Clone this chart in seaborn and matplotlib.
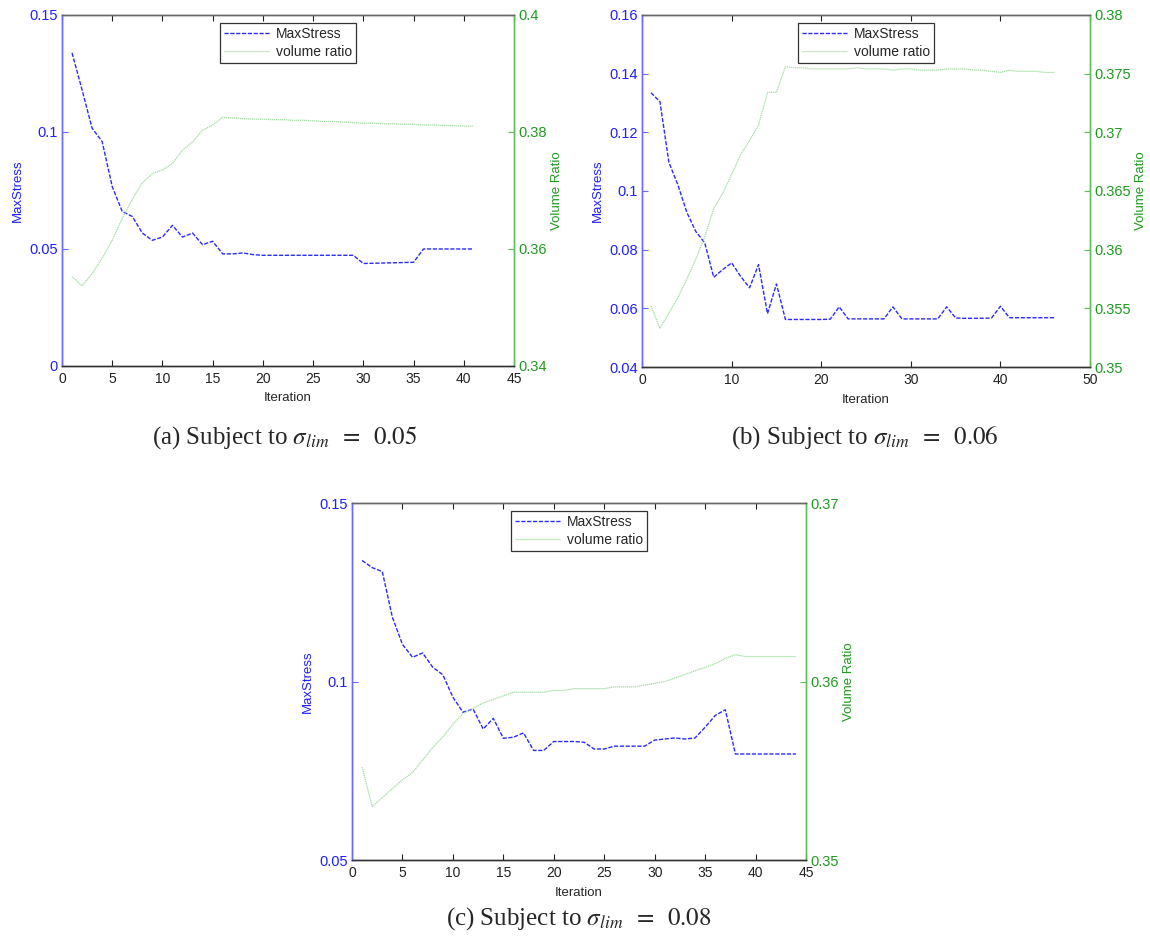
import matplotlib
matplotlib.use("Agg")
import matplotlib.pyplot as plt
import seaborn as sns
import pandas as pd

# ---------------- data ----------------
iter_a = list(range(1, 42))
stress_a = [0.1338, 0.118, 0.1016, 0.0959, 0.0767, 0.066, 0.0639, 0.0568, 0.0537, 0.0551,
            0.0601, 0.0551, 0.0568, 0.0518, 0.0533, 0.0479, 0.0479, 0.0483, 0.0476, 0.0473,
            0.0473, 0.0473, 0.0473, 0.0473, 0.0473, 0.0473, 0.0473, 0.0473, 0.0473, 0.0438,
            0.0439, 0.0440, 0.0441, 0.0442, 0.0443, 0.0500, 0.0500, 0.0500, 0.0500, 0.0500,
            0.0500]
volume_a = [0.3553, 0.3537, 0.3558, 0.3584, 0.3615, 0.3652, 0.3685, 0.3713, 0.3729, 0.3735,
            0.3746, 0.3769, 0.3783, 0.3803, 0.3812, 0.3825, 0.3824, 0.3823, 0.3822, 0.3822,
            0.3821, 0.3821, 0.3820, 0.3820, 0.3819, 0.3818, 0.3818, 0.3817, 0.3816, 0.3815,
            0.3815, 0.3814, 0.3814, 0.3813, 0.3813, 0.3812, 0.3812, 0.3811, 0.3811, 0.3810,
            0.3810]

iter_b = list(range(1, 47))
stress_b = [0.1335, 0.1304, 0.1097, 0.1021, 0.0927, 0.0862, 0.0823, 0.0706, 0.0732, 0.0755,
            0.0709, 0.0670, 0.0749, 0.0582, 0.0683, 0.0562, 0.0562, 0.0562, 0.0562, 0.0562,
            0.0563, 0.0605, 0.0564, 0.0564, 0.0564, 0.0564, 0.0564, 0.0605, 0.0564, 0.0564,
            0.0564, 0.0564, 0.0564, 0.0605, 0.0567, 0.0566, 0.0566, 0.0566, 0.0567, 0.0607,
            0.0568, 0.0568, 0.0568, 0.0568, 0.0568, 0.0568]
volume_b = [0.3552, 0.3533, 0.3546, 0.3559, 0.3575, 0.3592, 0.3611, 0.3635, 0.3648, 0.3664,
            0.3681, 0.3693, 0.3706, 0.3734, 0.3734, 0.3756, 0.3755, 0.3755, 0.3754, 0.3754,
            0.3754, 0.3754, 0.3754, 0.3755, 0.3754, 0.3754, 0.3754, 0.3753, 0.3754, 0.3754,
            0.3753, 0.3753, 0.3753, 0.3754, 0.3754, 0.3754, 0.3753, 0.3753, 0.3752, 0.3751,
            0.3753, 0.3752, 0.3752, 0.3752, 0.3751, 0.3751]

iter_c = list(range(1, 45))
stress_c = [0.1339, 0.1319, 0.1308, 0.1180, 0.1104, 0.1068, 0.1080, 0.1040, 0.1019, 0.0956,
            0.0914, 0.0923, 0.0867, 0.0897, 0.0841, 0.0844, 0.0856, 0.0807, 0.0807, 0.0832,
            0.0832, 0.0832, 0.0830, 0.0811, 0.0811, 0.0819, 0.0819, 0.0819, 0.0819, 0.0836,
            0.0839, 0.0842, 0.0839, 0.0842, 0.0872, 0.0905, 0.0921, 0.0797, 0.0797, 0.0797,
            0.0797, 0.0797, 0.0797, 0.0797]
volume_c = [0.3552, 0.3530, 0.3535, 0.3540, 0.3545, 0.3549, 0.3556, 0.3563, 0.3569, 0.3576,
            0.3582, 0.3585, 0.3588, 0.3590, 0.3592, 0.3594, 0.3594, 0.3594, 0.3594, 0.3595,
            0.3595, 0.3596, 0.3596, 0.3596, 0.3596, 0.3597, 0.3597, 0.3597, 0.3598, 0.3599,
            0.3600, 0.3602, 0.3604, 0.3606, 0.3608, 0.3610, 0.3613, 0.3615, 0.3614, 0.3614,
            0.3614, 0.3614, 0.3614, 0.3614]

captions = [r"(a) Subject to $\sigma_{lim}\;\;=\;\;0.05$",
            r"(b) Subject to $\sigma_{lim}\;\;=\;\;0.06$",
            r"(c) Subject to $\sigma_{lim}\;\;=\;\;0.08$"]

xticks_a = [0, 5, 10, 15, 20, 25, 30, 35, 40, 45]
xticks_b = [0, 10, 20, 30, 40, 50]
xticks_c = [0, 5, 10, 15, 20, 25, 30, 35, 40, 45]
lticks_a = ["0", "0.05", "0.1", "0.15"]
rticks_a = ["0.34", "0.36", "0.38", "0.4"]
lticks_b = ["0.04", "0.06", "0.08", "0.1", "0.12", "0.14", "0.16"]
rticks_b = ["0.35", "0.355", "0.36", "0.365", "0.37", "0.375", "0.38"]
lticks_c = ["0.05", "0.1", "0.15"]
rticks_c = ["0.35", "0.36", "0.37"]

# ---------------- style ----------------
sns.set_style("white")
plt.rcParams["font.family"] = ["Liberation Sans", "DejaVu Sans"]
plt.rcParams["mathtext.fontset"] = "stix"

BLUE_LINE = "#2a2aff"
BLUE_TXT = "#1f1fff"
BLUE_SPINE = "#6a6aff"
GREEN_LINE = "#a2dca2"
GREEN_TXT = "#1f9a1f"
GREEN_SPINE = "#5cbf5c"

fig = plt.figure(figsize=(11.5, 9.42), dpi=100)

panels = [
    dict(rect=[0.0539, 0.6115, 0.3930, 0.3726], it=iter_a, s=stress_a, v=volume_a,
         xt=xticks_a, xlim=(0, 45), lt=lticks_a, rt=rticks_a, cap=captions[0],
         capxy=(0.248, 0.536)),
    dict(rect=[0.5583, 0.6104, 0.3896, 0.3737], it=iter_b, s=stress_b, v=volume_b,
         xt=xticks_b, xlim=(0, 50), lt=lticks_b, rt=rticks_b, cap=captions[1],
         capxy=(0.752, 0.536)),
    dict(rect=[0.3061, 0.0870, 0.3948, 0.3790], it=iter_c, s=stress_c, v=volume_c,
         xt=xticks_c, xlim=(0, 45), lt=lticks_c, rt=rticks_c, cap=captions[2],
         capxy=(0.503, 0.025)),
]

for p in panels:
    ax1 = fig.add_axes(p["rect"])
    ax2 = ax1.twinx()
    df = pd.DataFrame({"Iteration": p["it"], "MaxStress": p["s"], "Volume": p["v"]})
    sns.lineplot(data=df, x="Iteration", y="MaxStress", ax=ax1, color=BLUE_LINE,
                 linestyle="--", linewidth=1.0, label="MaxStress", legend=False)
    sns.lineplot(data=df, x="Iteration", y="Volume", ax=ax2, color=GREEN_LINE,
                 linestyle=(0, (1, 0.6)), linewidth=0.9, label="volume ratio", legend=False)
    ax1.lines[0].set_dashes((3, 1.2))

    lvals = [float(t) for t in p["lt"]]
    rvals = [float(t) for t in p["rt"]]
    ax1.set_xlim(*p["xlim"])
    ax1.set_ylim(lvals[0], lvals[-1])
    ax2.set_ylim(rvals[0], rvals[-1])
    ax1.set_xticks(p["xt"])
    ax1.set_xticklabels([str(t) for t in p["xt"]], fontsize=10)
    ax1.set_yticks(lvals)
    ax1.set_yticklabels(p["lt"], fontsize=10.5, color=BLUE_TXT)
    ax2.set_yticks(rvals)
    ax2.set_yticklabels(p["rt"], fontsize=10.5, color=GREEN_TXT)

    ax1.set_xlabel("Iteration", fontsize=9.5, labelpad=5)
    ax1.set_ylabel("MaxStress", fontsize=9.5, color=BLUE_TXT, labelpad=4)
    ax2.set_ylabel("Volume Ratio", fontsize=9.5, color=GREEN_TXT, labelpad=3)

    ax1.tick_params(axis="x", which="both", direction="in", length=4, width=0.8,
                    top=True, bottom=True, pad=4, colors="#222222")
    ax1.tick_params(axis="y", direction="in", length=4, width=0.8, color=BLUE_SPINE, pad=3)
    ax2.tick_params(axis="y", direction="in", length=4, width=0.8, color=GREEN_SPINE, pad=3)

    for ax in (ax1, ax2):
        for sp in ax.spines.values():
            sp.set_visible(True)
            sp.set_linewidth(1.0)
        ax.spines["top"].set_color("#666666")
        ax.spines["bottom"].set_color("#333333")
        ax.spines["left"].set_color(BLUE_SPINE)
        ax.spines["right"].set_color(GREEN_SPINE)

    handles = [ax1.lines[0], ax2.lines[0]]
    leg = ax1.legend(handles, ["MaxStress", "volume ratio"], loc="upper center",
                     bbox_to_anchor=(0.5, 0.985), fontsize=10, frameon=True,
                     fancybox=False, edgecolor="#333333", framealpha=1,
                     handlelength=3.2, handletextpad=0.5, borderpad=0.3,
                     labelspacing=0.25, borderaxespad=0.2)
    leg.get_frame().set_linewidth(0.9)
    leg.set_zorder(10)

    fig.text(p["capxy"][0], p["capxy"][1], p["cap"], ha="center", va="center",
             fontsize=18, family=["Liberation Serif", "DejaVu Serif"])

fig.savefig("out.png", dpi=100)
